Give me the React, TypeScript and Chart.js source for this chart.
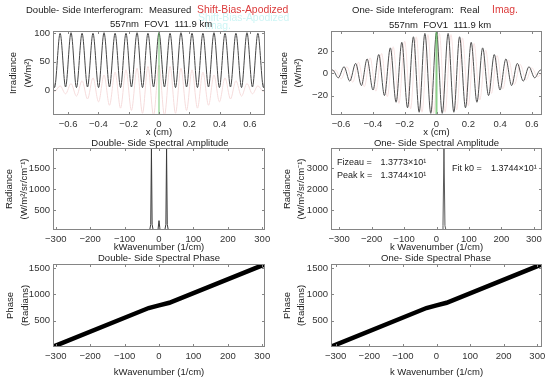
import React, { useEffect, useRef } from "react";
import { Chart, registerables } from "chart.js";

Chart.register(...registerables);

const W = 550;
const H = 380;
const FONT = '"Liberation Sans", Arial, Helvetica, sans-serif';

// ---------- data ----------
// fringe extremes positions (cm)
const xCm = [
  -0.7, -0.69, -0.653, -0.617, -0.581, -0.545, -0.508, -0.472, -0.436, -0.399,
  -0.363, -0.327, -0.29, -0.254, -0.218, -0.182, -0.145, -0.109, -0.073, -0.036,
  0,
  0.036, 0.073, 0.109, 0.145, 0.182, 0.218, 0.254, 0.29, 0.327, 0.363,
  0.399, 0.436, 0.472, 0.508, 0.545, 0.581, 0.617, 0.653, 0.69, 0.7,
];
const measured = [
  22, 5, 100, 6, 101, 5, 100, 6, 100, 5,
  101, 6, 100, 5, 100, 6, 101, 5, 100, 6,
  101,
  6, 100, 5, 101, 6, 100, 5, 100, 6, 101,
  5, 100, 6, 100, 5, 101, 6, 100, 5, 22,
];
const apodized = [
  0, -2, 8, -6, 12, -10, 17, -15, 22, -20,
  27, -26, 32, -31, 36, -35, 39, -40, 42, -44,
  44,
  -44, 42, -40, 39, -35, 36, -31, 32, -26, 27,
  -20, 22, -15, 17, -10, 12, -6, 8, -2, 0,
];
const realPart = [
  -1, -2, 3, -4, 6, -7, 9, -11, 13, -15,
  17, -20, 23, -26, 28, -31, 33, -35, 36, -36,
  37,
  -36, 36, -35, 33, -31, 28, -26, 23, -20, 17,
  -15, 13, -11, 9, -7, 6, -4, 3, -2, -1,
];
const xImag = [
  -0.672, -0.635, -0.599, -0.563, -0.526, -0.49, -0.454, -0.417, -0.381, -0.345,
  -0.309, -0.272, -0.236, -0.2, -0.163, -0.127, -0.091, -0.054, -0.018,
  0.018, 0.054, 0.091, 0.127, 0.163, 0.2, 0.236, 0.272, 0.309, 0.345,
  0.381, 0.417, 0.454, 0.49, 0.526, 0.563, 0.599, 0.635, 0.672,
];
const imagPart = [
  -2, 3, -5, 6, -8, 10, -12, 14, -16, 18,
  -21, 24, -27, 29, -32, 33, -35, 35, -36,
  36, -35, 35, -33, 32, -29, 27, -24, 21, -18,
  16, -14, 12, -10, 8, -6, 5, -3, 2,
];
const zeroPathX = 0;

const kDouble = [-308, -27, -24, -22, -20, -17, -3, 0, 3, 17, 20, 22, 24, 27, 308];
const ampDouble = [28, 28, 160, 1972, 160, 28, 28, 250, 28, 28, 160, 1972, 160, 28, 28];

const kOne = [-325, 17, 20, 23, 26, 29, 325];
const ampOne = [38, 38, 250, 3960, 250, 38, 38];

const kPhaseDouble = [-308, -30, 0, 30, 308];
const phaseDouble = [5, 740, 790, 840, 1572];
const kPhaseOne = [-314, -30, 0, 30, 314];
const phaseOne = [5, 740, 790, 840, 1572];

// axis limits and ticks
const xLimTL = [-0.7, 0.7];
const yLimTL = [-43, 104];
const xLimTR = [-0.663, 0.663];
const yLimTR = [-37.5, 38.2];
const xLimML = [-308, 308];
const yLimML = [28, 1972];
const xLimMR = [-325, 325];
const yLimMR = [38, 3960];
const xLimBL = [-308, 308];
const xLimBR = [-314, 314];
const yLimPhase = [0, 1576];

const xTicksCm = [-0.6, -0.4, -0.2, 0, 0.2, 0.4, 0.6];
const kTicks = [-300, -200, -100, 0, 100, 200, 300];
const irrTicksL = [0, 50, 100];
const irrTicksR = [-20, 0, 20];
const radTicksL = [500, 1000, 1500];
const radTicksR = [1000, 2000, 3000];
const phaseTicks = [500, 1000, 1500];

const fizeauVal = "1.3773×10¹";
const peakKVal = "1.3744×10¹";
const fitK0Val = "1.3744×10¹";

// ---------- helpers ----------
type Item = { text: string; x: number; y: number; color?: string; align?: CanvasTextAlign; size?: number };

const pts = (xs: number[], ys: number[]) => xs.map((x, i) => ({ x, y: ys[i] }));

const line = (data: any[], color: string, width: number, smooth: boolean) => ({
  data,
  borderColor: color,
  backgroundColor: color,
  borderWidth: width,
  pointRadius: 0,
  fill: false,
  tension: 0,
  cubicInterpolationMode: smooth ? "monotone" : "default",
});

const fmt = (v: number) => {
  const s = String(Math.round(v * 1000) / 1000);
  return v < 0 ? "\u2212" + s.slice(1) : s;
};

const makeTextPlugin = (items: Item[]) => ({
  id: "texts",
  afterDraw(chart: any) {
    const ctx = chart.ctx;
    ctx.save();
    for (const it of items) {
      ctx.font = `${it.size ?? 9.5}px ${FONT}`;
      ctx.fillStyle = it.color ?? "#1a1a1a";
      ctx.textAlign = it.align ?? "left";
      ctx.textBaseline = "middle";
      ctx.fillText(it.text, it.x, it.y);
    }
    ctx.restore();
  },
});

const makeFramePlugin = (xt: number[], yt: number[]) => ({
  id: "frame",
  afterDatasetsDraw(chart: any) {
    const { ctx, chartArea: a, scales } = chart;
    const L = Math.round(a.left) + 0.5;
    const R = Math.round(a.right) - 0.5;
    const T = Math.round(a.top) + 0.5;
    const B = Math.round(a.bottom) - 0.5;
    ctx.save();
    ctx.strokeStyle = "#858585";
    ctx.lineWidth = 1;
    ctx.strokeRect(L, T, R - L, B - T);
    const tl = 2.5;
    ctx.beginPath();
    for (const v of xt) {
      const px = Math.round(scales.x.getPixelForValue(v)) + 0.5;
      ctx.moveTo(px, B); ctx.lineTo(px, B - tl);
      ctx.moveTo(px, T); ctx.lineTo(px, T + tl);
    }
    for (const v of yt) {
      const py = Math.round(scales.y.getPixelForValue(v)) + 0.5;
      ctx.moveTo(L, py); ctx.lineTo(L + tl, py);
      ctx.moveTo(R, py); ctx.lineTo(R - tl, py);
    }
    ctx.stroke();
    ctx.restore();
  },
});

type Spec = {
  box: { l: number; t: number; r: number; b: number };
  xLim: number[]; yLim: number[];
  xTicks: number[]; yTicks: number[];
  xTitle: string; xTitleY: number;
  yTitle: string[]; yTitleX: number;
  datasets: any[];
  texts: Item[];
};

const LH_Y = 14.5;
const LH_X = 11;

function buildConfig(s: Spec): any {
  const { l, t, r, b } = s.box;
  const yLeft = s.yTitleX - LH_Y / 2;
  const yW = l - yLeft;
  const xH = s.xTitleY - b + LH_X / 2;
  const tickFont = { family: FONT, size: 9.5 };
  return {
    type: "line",
    data: { datasets: s.datasets },
    options: {
      animation: false,
      responsive: false,
      maintainAspectRatio: false,
      events: [],
      layout: { autoPadding: false, padding: { left: yLeft, top: t, right: W - r, bottom: H - b - xH } },
      plugins: { legend: { display: false }, tooltip: { enabled: false }, title: { display: false } },
      scales: {
        x: {
          type: "linear",
          min: s.xLim[0],
          max: s.xLim[1],
          afterBuildTicks: (sc: any) => { sc.ticks = s.xTicks.map((v) => ({ value: v })); },
          afterFit: (sc: any) => {
            sc.height = xH; sc.paddingLeft = 0; sc.paddingRight = 0; sc.paddingTop = 0; sc.paddingBottom = 0;
          },
          grid: { display: false, drawTicks: false },
          border: { display: false },
          ticks: { autoSkip: false, maxRotation: 0, minRotation: 0, padding: 4, color: "#333", font: tickFont, callback: (v: number) => fmt(v) },
          title: { display: true, text: s.xTitle, padding: 0, color: "#222", font: { family: FONT, size: 9.5, lineHeight: LH_X + "px" } },
        },
        y: {
          type: "linear",
          min: s.yLim[0],
          max: s.yLim[1],
          afterBuildTicks: (sc: any) => { sc.ticks = s.yTicks.map((v) => ({ value: v })); },
          afterFit: (sc: any) => {
            sc.width = yW; sc.paddingLeft = 0; sc.paddingRight = 0; sc.paddingTop = 0; sc.paddingBottom = 0;
          },
          grid: { display: false, drawTicks: false },
          border: { display: false },
          ticks: { autoSkip: false, padding: 3, color: "#333", font: tickFont, callback: (v: number) => fmt(v) },
          title: { display: true, text: s.yTitle, padding: 0, color: "#222", font: { family: FONT, size: 9.5, lineHeight: LH_Y + "px" } },
        },
      },
    },
    plugins: [makeFramePlugin(s.xTicks, s.yTicks), makeTextPlugin(s.texts)],
  };
}

const RED = "#dc3c3c";
const GHOST = "#cdf5f5";
const GREEN = "rgba(90,190,90,0.7)";
const LEG = 10.4;

const specs: Spec[] = [
  {
    box: { l: 53, t: 31, r: 265, b: 115 },
    xLim: xLimTL, yLim: yLimTL, xTicks: xTicksCm, yTicks: irrTicksL,
    xTitle: "x (cm)", xTitleY: 132,
    yTitle: ["Irradiance", "(W/m²)"], yTitleX: 13.5,
    datasets: [
      line(pts([zeroPathX, zeroPathX], yLimTL), GREEN, 1.2, false),
      line(pts(xCm, measured), "#454545", 1, true),
      line(pts(xCm, apodized), "#f6dcdc", 1, true),
    ],
    texts: [
      { text: "Shift-Bias-Apodized", x: 198, y: 18.5, color: GHOST, size: LEG },
      { text: "Imag.", x: 205, y: 26, color: GHOST, size: LEG },
      { text: "Double- Side Interferogram:", x: 26, y: 10 },
      { text: "Measured", x: 149, y: 10 },
      { text: "Shift-Bias-Apodized", x: 197, y: 10, color: RED, size: LEG },
      { text: "557nm  FOV1  111.9 km", x: 161, y: 24, align: "center" },
    ],
  },
  {
    box: { l: 331, t: 31, r: 542, b: 115 },
    xLim: xLimTR, yLim: yLimTR, xTicks: xTicksCm, yTicks: irrTicksR,
    xTitle: "x (cm)", xTitleY: 132,
    yTitle: ["Irradiance", "(W/m²)"], yTitleX: 284,
    datasets: [
      line(pts([zeroPathX, zeroPathX], yLimTR), GREEN, 2, false),
      line(pts(xCm, realPart), "#4f4f4f", 1, true),
      line(pts(xImag, imagPart), "#f7e2e2", 1, true),
    ],
    texts: [
      { text: "One- Side Inteferogram:", x: 352, y: 10 },
      { text: "Real", x: 460, y: 10 },
      { text: "Imag.", x: 492, y: 10, color: RED, size: LEG },
      { text: "557nm  FOV1  111.9 km", x: 440, y: 25, align: "center" },
    ],
  },
  {
    box: { l: 53, t: 148, r: 265, b: 230 },
    xLim: xLimML, yLim: yLimML, xTicks: kTicks, yTicks: radTicksL,
    xTitle: "kWavenumber (1/cm)", xTitleY: 247,
    yTitle: ["Radiance", "(W/m²/sr/cm⁻¹)"], yTitleX: 9.5,
    datasets: [line(pts(kDouble, ampDouble), "#3a3a3a", 1, false)],
    texts: [{ text: "Double- Side Spectral Amplitude", x: 160, y: 143, align: "center" }],
  },
  {
    box: { l: 331, t: 148, r: 542, b: 230 },
    xLim: xLimMR, yLim: yLimMR, xTicks: kTicks, yTicks: radTicksR,
    xTitle: "k Wavenumber (1/cm)", xTitleY: 247,
    yTitle: ["Radiance", "(W/m²/sr/cm⁻¹)"], yTitleX: 287,
    datasets: [line(pts(kOne, ampOne), "#5a5a5a", 1, false)],
    texts: [
      { text: "One- Side Spectral Amplitude", x: 436.5, y: 143, align: "center" },
      { text: "Fizeau =", x: 337, y: 163, size: 9 },
      { text: fizeauVal, x: 380.5, y: 163, size: 9 },
      { text: "Peak k =", x: 337, y: 175.5, size: 9 },
      { text: peakKVal, x: 380.5, y: 175.5, size: 9 },
      { text: "Fit k0 =", x: 452, y: 169, size: 9 },
      { text: fitK0Val, x: 491, y: 169, size: 9 },
    ],
  },
  {
    box: { l: 53, t: 264, r: 265, b: 347 },
    xLim: xLimBL, yLim: yLimPhase, xTicks: kTicks, yTicks: phaseTicks,
    xTitle: "kWavenumber (1/cm)", xTitleY: 372,
    yTitle: ["Phase", "(Radians)"], yTitleX: 10.5,
    datasets: [line(pts(kPhaseDouble, phaseDouble), "#000", 4.5, false)],
    texts: [{ text: "Double- Side Spectral Phase", x: 159, y: 258, align: "center" }],
  },
  {
    box: { l: 331, t: 264, r: 542, b: 347 },
    xLim: xLimBR, yLim: yLimPhase, xTicks: kTicks, yTicks: phaseTicks,
    xTitle: "k Wavenumber (1/cm)", xTitleY: 372,
    yTitle: ["Phase", "(Radians)"], yTitleX: 287,
    datasets: [line(pts(kPhaseOne, phaseOne), "#000", 4.5, false)],
    texts: [{ text: "One- Side Spectral Phase", x: 436, y: 258, align: "center" }],
  },
];

function Panel({ spec }: { spec: Spec }) {
  const ref = useRef<HTMLCanvasElement>(null);
  useEffect(() => {
    const chart = new Chart(ref.current as HTMLCanvasElement, buildConfig(spec));
    return () => chart.destroy();
  }, [spec]);
  return (
    <canvas
      ref={ref}
      width={W}
      height={H}
      style={{ position: "absolute", left: 0, top: 0, width: W, height: H }}
    />
  );
}

export default function App() {
  return (
    <div style={{ position: "fixed", left: 0, top: 0, width: W, height: H, background: "#fff", overflow: "hidden" }}>
      {specs.map((s, i) => (
        <Panel key={i} spec={s} />
      ))}
    </div>
  );
}
